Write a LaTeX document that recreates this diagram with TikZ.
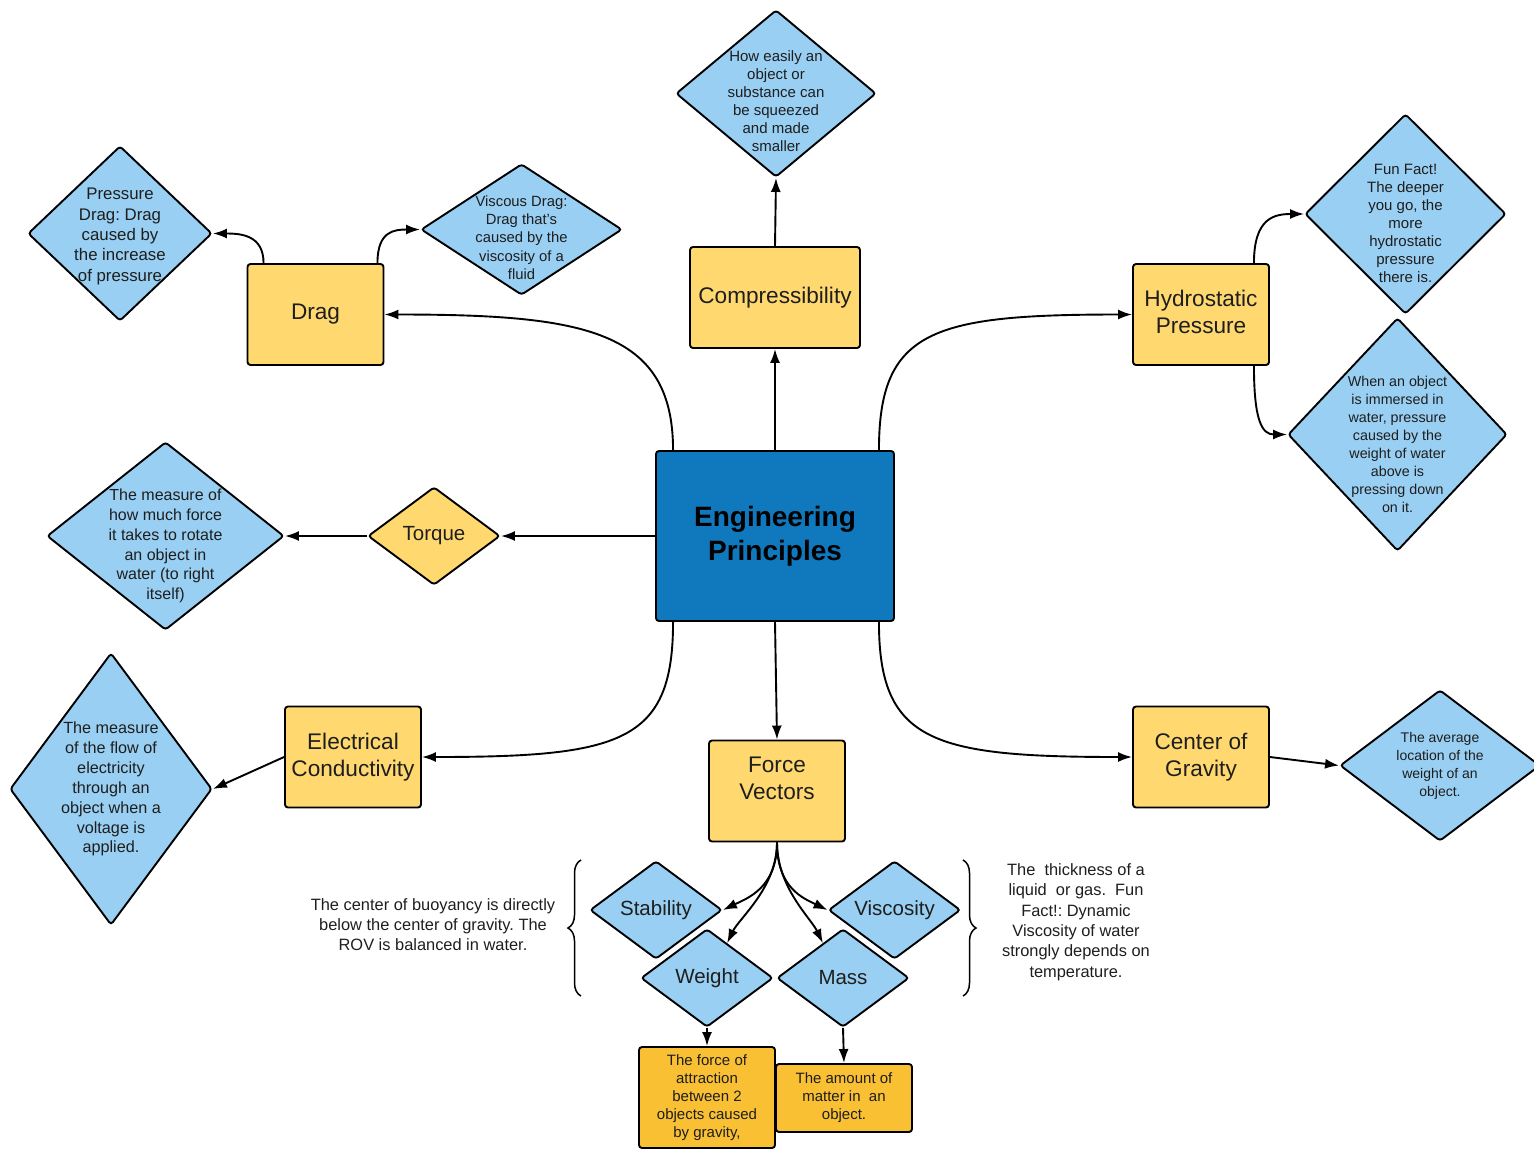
\documentclass[tikz,border=0pt]{standalone}
\usepackage{fontspec}
\setmainfont{Liberation Sans}
\usetikzlibrary{arrows.meta,shapes.geometric,decorations.pathreplacing}

\definecolor{conceptblue}{RGB}{16,121,190}
\definecolor{termyellow}{RGB}{255,217,112}
\definecolor{noteblue}{RGB}{153,207,242}
\definecolor{factorange}{RGB}{249,192,52}
\definecolor{inkgray}{RGB}{30,30,30}

\frenchspacing

\begin{document}
\begin{tikzpicture}[
  x=1pt, y=-1pt,
  line width=1.9pt,
  term/.style={
    rectangle,
    rounded corners=3pt,
    draw=black,
    fill=termyellow,
    text=inkgray,
    minimum width=136pt,
    minimum height=101pt,
    align=center,
    font=\fontsize{22.6}{27}\selectfont
  },
  note/.style={
    diamond,
    draw=black,
    fill=noteblue,
    rounded corners=3pt,
    inner sep=0pt
  },
  keyword/.style={
    note,
    minimum width=132pt,
    minimum height=98pt
  },
  notetext/.style={
    align=center,
    text=inkgray,
    font=\fontsize{15}{18}\selectfont
  },
  keytext/.style={
    text=inkgray,
    font=\fontsize{20.5}{24}\selectfont
  },
  link/.style={
    -{Latex[length=14pt,width=10pt]}
  },
  curly/.style={
    line width=1.5pt,
    decorate,
    decoration={
      brace,
      amplitude=13pt
    }
  }
]
  \useasboundingbox (0,0) rectangle (1534,1149);

  \node[term, minimum width=238pt, minimum height=170pt, fill=conceptblue, text=black,
    font=\bfseries\fontsize{28}{34}\selectfont] (ep) at (775,536) {Engineering\\Principles};

  \node[term, minimum width=170pt] (compress) at (775,297.5) {Compressibility};
  \node[term] (drag) at (315.5,314.5) {Drag};
  \node[term, text depth=5pt] (hydro) at (1201,314.5) {Hydrostatic\\Pressure};
  \node[term, text depth=4pt] (elec) at (353,757) {Electrical\\Conductivity};
  \node[term, text depth=4pt] (cog) at (1201,757) {Center of\\Gravity};
  \node[term, text depth=25pt] (force) at (777,791) {Force\\Vectors};

  \node[note, minimum width=200pt, minimum height=167pt,
    label={[notetext,yshift=-8pt]center:{How easily an\\object or\\substance can\\be squeezed\\and made\\smaller}}]
    (compdef) at (776,93.5) {};
  \node[note, minimum width=184pt, minimum height=175pt,
    label={[notetext,yshift=-3pt,font=\fontsize{16.8}{20.3}\selectfont]center:{Pressure\\Drag: Drag\\caused by\\the increase\\of pressure}}]
    (pdrag) at (120,233.5) {};
  \node[note, minimum width=201pt, minimum height=131pt,
    label={[notetext,yshift=-8pt,font=\fontsize{14.8}{18.3}\selectfont]center:{Viscous Drag:\\Drag that's\\caused by the\\viscosity of a\\fluid}}]
    (vdrag) at (521.5,229.5) {};
  \node[note, minimum width=201pt, minimum height=200pt,
    label={[notetext,yshift=-9pt]center:{Fun Fact!\\The deeper\\you go, the\\more\\hydrostatic\\pressure\\there is.}}]
    (funfact) at (1405.5,214) {};
  \node[note, minimum width=219pt, minimum height=233pt,
    label={[notetext,yshift=-10pt,font=\fontsize{14.3}{18.1}\selectfont]center:{When an object\\is immersed in\\water, pressure\\caused by the\\weight of water\\above is\\pressing down\\on it.}}]
    (immersed) at (1397.5,434.5) {};

  \node[note, fill=termyellow, minimum width=132pt, minimum height=98pt,
    label={[keytext]center:Torque}] (torque) at (434,536) {};
  \node[note, minimum width=237pt, minimum height=188pt,
    label={[notetext,yshift=-10pt,font=\fontsize{16}{19.8}\selectfont]center:{The measure of\\how much force\\it takes to rotate\\an object in\\water (to right\\itself)}}]
    (torquedef) at (165.5,536) {};
  \node[note, minimum width=202pt, minimum height=272pt,
    label={[notetext,font=\fontsize{16.2}{19.9}\selectfont]center:{The measure\\of the flow of\\electricity\\through an\\object when a\\voltage is\\applied.}}]
    (flowdef) at (111,789) {};
  \node[note, minimum width=200pt, minimum height=151pt,
    label={[notetext,font=\fontsize{14}{18}\selectfont]center:{The average\\location of the\\weight of an\\object.}}]
    (avgdef) at (1440,765.5) {};

  \node[keyword, label={[keytext]center:Stability}] (stability) at (656,910) {};
  \node[keyword, label={[keytext]center:Viscosity}] (viscosity) at (894.5,910) {};
  \node[keyword, label={[keytext]center:Weight}] (weight) at (707,978) {};
  \node[keyword, label={[keytext]center:Mass}] (mass) at (843,978) {};

  \node[term, fill=factorange, font=\fontsize{15}{18}\selectfont] (attract) at (707,1097.5)
    {The force of\\attraction\\between 2\\objects caused\\by gravity,};
  \node[term, fill=factorange, minimum height=68pt, font=\fontsize{15}{18}\selectfont] (matter) at (844,1098)
    {The amount of\\matter in\ \ an\\object.};

  \node[notetext, font=\fontsize{16.4}{20}\selectfont] (buoyancy) at (433,925)
    {The center of buoyancy is directly\\below the center of gravity. The\\ROV is balanced in water.};
  \node[notetext, font=\fontsize{16.4}{20.4}\selectfont] (thickness) at (1076,922)
    {The\ \ thickness of a\\liquid\ \ or gas.\ \ Fun\\Fact!: Dynamic\\Viscosity of water\\strongly depends on\\temperature.};

  \coordinate (lbrace top) at (581,860);
  \coordinate (lbrace bottom) at (581,996);
  \coordinate (rbrace top) at (963,860);
  \coordinate (rbrace bottom) at (963,996);
  \draw[curly] (lbrace bottom) -- (lbrace top);
  \draw[curly] (rbrace top) -- (rbrace bottom);

  \draw[link] (ep.north) -- (compress.south);
  \draw[link] (compress.north) -- (compdef.south);
  \draw[link] ([xshift=18pt]ep.north west) .. controls +(0,-120) and +(200,0) .. (drag.east);
  \draw[link] ([xshift=-16pt]ep.north east) .. controls +(0,-120) and +(-200,0) .. (hydro.west);
  \draw[link] ([xshift=18pt]ep.south west) .. controls +(0,120) and +(200,0) .. (elec.east);
  \draw[link] ([xshift=-16pt]ep.south east) .. controls +(0,120) and +(-200,0) .. (cog.west);
  \draw[link] (ep.west) -- (torque.east);
  \draw[link] (torque.west) -- (torquedef.east);
  \draw[link] (ep.south) -- (force.north);

  \draw[link] ([xshift=17pt]drag.north west) .. controls +(0,-28) and +(28,0) .. (pdrag.east);
  \draw[link] ([xshift=-7pt]drag.north east) .. controls +(0,-32) and +(-26,0) .. (vdrag.west);
  \draw[link] ([xshift=-16pt]hydro.north east) .. controls +(0,-45) and +(-30,0) .. (funfact.west);
  \draw[link] ([xshift=-16pt]hydro.south east) .. controls +(0,55) and +(-25,0) .. (immersed.west);
  \draw[link] (elec.west) -- (flowdef.east);
  \draw[link] (cog.east) -- (avgdef.west);

  \draw[link] (force.south) .. controls +(0,45) and +(25,-12) .. (stability.east);
  \draw[link] (force.south) .. controls +(0,45) and +(12,-25) .. (weight.60);
  \draw[link] (force.south) .. controls +(0,45) and +(-25,-12) .. (viscosity.west);
  \draw[link] (force.south) .. controls +(0,45) and +(-12,-25) .. (mass.120);
  \draw[link] (weight.south) -- (attract.north);
  \draw[link] (mass.south) -- (matter.north);
\end{tikzpicture}
\end{document}
